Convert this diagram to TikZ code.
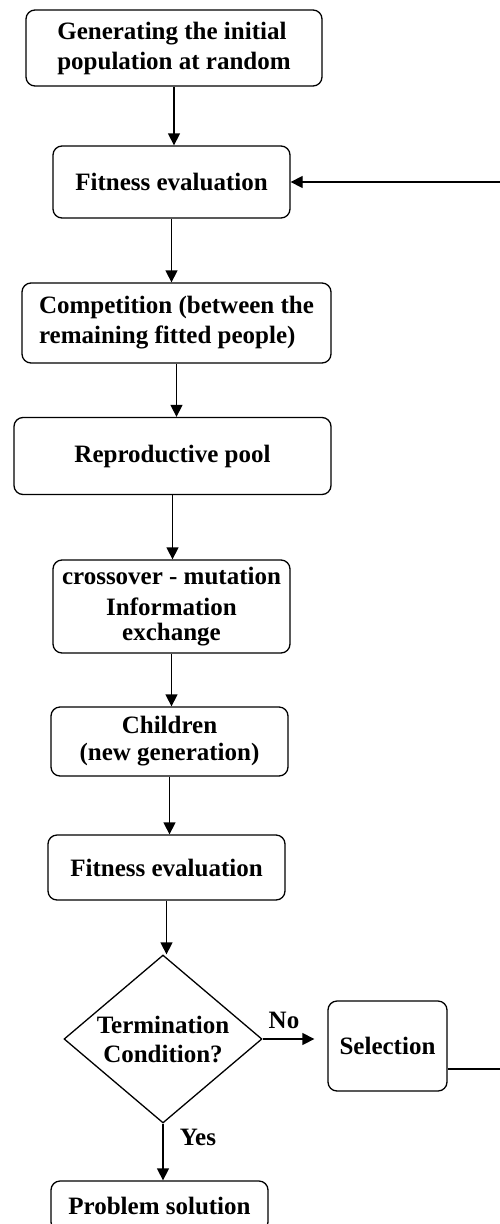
\documentclass[tikz,border=0pt]{standalone}
\usepackage{fontspec}
\setmainfont{Liberation Serif}
\usetikzlibrary{shapes.geometric,arrows.meta}
\begin{document}
\begin{tikzpicture}[x=1pt,y=-1pt,
  box/.style={draw, rounded corners=9pt, line width=1.3pt, inner sep=0pt,
    font=\fontsize{25}{30}\selectfont\bfseries},
  arr/.style={-{Triangle[length=12pt,width=12pt]}, line width=1.3pt},
  lbl/.style={font=\fontsize{25}{30}\selectfont\bfseries, inner sep=0pt}]
\useasboundingbox (0,0) rectangle (499,1224);
\node[box, align=left, minimum width=296, minimum height=76] (n1) at (174,48)
  {Generating the initial\\population at random};
\node[box, align=center, minimum width=237, minimum height=72] (n2) at (171.5,182)
  {Fitness evaluation};
\node[box, align=left, minimum width=309, minimum height=80] (n3) at (176.5,323)
  {Competition (between the\\remaining fitted people)};
\node[box, align=center, minimum width=317, minimum height=77] (n4) at (172.5,456)
  {Reproductive pool};
\node[box, align=center, minimum width=237, minimum height=93,
  font=\fontsize{25}{25}\selectfont\bfseries] (n5) at (171.5,606.5)
  {crossover - mutation\\[6pt]Information\\exchange};
\node[box, align=center, minimum width=237, minimum height=69,
  font=\fontsize{25}{27}\selectfont\bfseries] (n6) at (169.5,741.5)
  {Children\\(new generation)};
\node[box, align=center, minimum width=237, minimum height=65] (n7) at (166.5,867.5)
  {Fitness evaluation};
\node[draw, diamond, aspect=1.18, line width=1.3pt, inner sep=0pt,
  minimum width=198, minimum height=168, align=center,
  font=\fontsize{25}{29}\selectfont\bfseries] (d) at (163,1039)
  {Termination\\Condition?};
\node[box, align=center, minimum width=119, minimum height=90] (sel) at (387.5,1046)
  {Selection};
\node[box, align=center, minimum width=217, minimum height=50] (ps) at (159.5,1206)
  {Problem solution};
\node[lbl] (no) at (284,1020) {No};
\node[lbl] (yes) at (198,1137) {Yes};
\draw[arr] (n1.south) -- (n1.south |- n2.north);
\draw[arr] (n2.south) -- (n2.south |- n3.north);
\draw[arr] (n3.south) -- (n3.south |- n4.north);
\draw[arr] (n4.south) -- (n4.south |- n5.north);
\draw[arr] (n5.south) -- (n5.south |- n6.north);
\draw[arr] (n6.south) -- (n6.south |- n7.north);
\draw[arr] (n7.south) -- (n7.south |- d.north);
\draw[arr] (d.south) -- (d.south |- ps.north);
\draw[arr, shorten >=13pt] (d.east) -- (d.east -| sel.west);
\coordinate (fb) at (504,1069);
\draw[arr] (sel.east |- fb) -- (fb) -- (fb |- n2.east) -- (n2.east);
\end{tikzpicture}
\end{document}
